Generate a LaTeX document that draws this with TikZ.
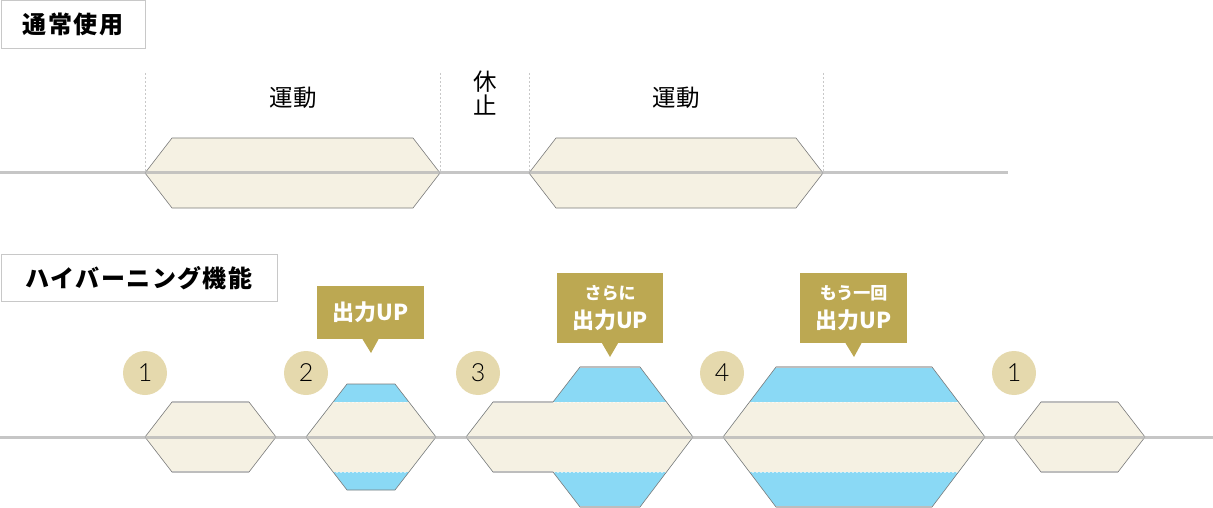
\documentclass[tikz,border=0pt]{standalone}
\usepackage{fontspec}
\setmainfont{Noto Sans CJK JP}
\newfontfamily\numfont{Lato Light}
\definecolor{cream}{HTML}{F5F1E3}
\definecolor{sky}{HTML}{8AD9F5}
\definecolor{gold}{HTML}{BCA852}
\definecolor{tanc}{HTML}{E5D9AD}
\definecolor{tline}{HTML}{B8B8B8}
\definecolor{edgec}{HTML}{7A7A7A}
\definecolor{hedge}{HTML}{BDBDBD}
\definecolor{boxc}{HTML}{C8C8C8}
\tikzset{
  shapefill/.style={fill=cream},
  outline/.style={draw=edgec, line width=0.6pt, line join=miter},
  hedgeline/.style={draw=hedge, line width=1.6pt},
  bandline/.style={draw=white, draw opacity=0.6, line width=0.6pt, dash pattern=on 2pt off 2pt},
  timeline/.style={draw=tline, line width=3pt, opacity=0.8},
  guide/.style={draw=boxc, line width=0.6pt, dash pattern=on 2pt off 2pt},
  numcirc/.style={circle, fill=tanc, minimum size=44pt, inner sep=0pt, font=\numfont\fontsize{25}{25}\selectfont},
  callout/.style={fill=gold, text=white, inner sep=0pt, align=center, font=\bfseries},
  titlebox/.style={draw=boxc, fill=white, line width=0.8pt, anchor=north west, inner sep=0pt, font=\bfseries\fontsize{24}{24}\selectfont\addfontfeature{LetterSpace=6}},
  phase/.style={font=\fontsize{23.5}{24}\selectfont, align=center, inner sep=0pt}
}
\begin{document}
\begin{tikzpicture}[x=1pt,y=-1pt]
\useasboundingbox (0,0) rectangle (1213,508);

% ---------- top section ----------
\node[titlebox, minimum width=144.5pt, minimum height=47.5pt] (t1) at (0.5,0.5) {通常使用};

\draw[guide] (145,73) -- (145,173);
\draw[guide] (440,73) -- (440,173);
\draw[guide] (529,73) -- (529,173);
\draw[guide] (823,73) -- (823,173);

\node[phase] (m1) at (293,98) {運動};
\node[phase] (r1) at (485,93) {休\\止};
\node[phase] (m2) at (676,98) {運動};

\path[shapefill, outline] (145,173) -- (172,138) -- (413,138) -- (440,173) -- (413,208) -- (172,208) -- cycle;
\path[shapefill, outline] (529,173) -- (556,138) -- (796,138) -- (823,173) -- (796,208) -- (556,208) -- cycle;
\draw[timeline] (0,173) -- (1008,173);

% ---------- bottom section ----------
\node[titlebox, minimum width=276.5pt, minimum height=47pt] (t2) at (0.5,254) {ハイバーニング機能};

% shape b1
\path[shapefill, outline] (145,437) -- (172,402) -- (249,402) -- (276,437) -- (249,472) -- (172,472) -- cycle;
\draw[hedgeline] (172,402) -- (249,402) (172,472) -- (249,472);

% shape b2
\path[fill=sky] (306,437) -- (347,384) -- (395,384) -- (436,437) -- (395,490) -- (347,490) -- cycle;
\begin{scope}
  \clip (306,437) -- (347,384) -- (395,384) -- (436,437) -- (395,490) -- (347,490) -- cycle;
  \fill[cream] (300,402) rectangle (440,472);
  \draw[bandline] (300,402) -- (440,402) (300,472) -- (440,472);
\end{scope}
\path[outline] (306,437) -- (347,384) -- (395,384) -- (436,437) -- (395,490) -- (347,490) -- cycle;

% shape b3
\path[fill=sky] (466,437) -- (493,402) -- (553,402) -- (580,367) -- (640,367) -- (693,437) -- (640,507) -- (580,507) -- (553,472) -- (493,472) -- cycle;
\begin{scope}
  \clip (466,437) -- (493,402) -- (553,402) -- (580,367) -- (640,367) -- (693,437) -- (640,507) -- (580,507) -- (553,472) -- (493,472) -- cycle;
  \fill[cream] (460,402) rectangle (700,472);
  \draw[bandline] (553,402) -- (700,402) (553,472) -- (700,472);
\end{scope}
\path[outline] (466,437) -- (493,402) -- (553,402) -- (580,367) -- (640,367) -- (693,437) -- (640,507) -- (580,507) -- (553,472) -- (493,472) -- cycle;
\draw[hedgeline] (493,402) -- (553,402) (580,367) -- (640,367) (493,472) -- (553,472) (580,507) -- (640,507);

% shape b4
\path[fill=sky] (723,437) -- (776,367) -- (932,367) -- (985,437) -- (932,507) -- (776,507) -- cycle;
\begin{scope}
  \clip (723,437) -- (776,367) -- (932,367) -- (985,437) -- (932,507) -- (776,507) -- cycle;
  \fill[cream] (720,402) rectangle (990,472);
  \draw[bandline] (720,402) -- (990,402) (720,472) -- (990,472);
\end{scope}
\path[outline] (723,437) -- (776,367) -- (932,367) -- (985,437) -- (932,507) -- (776,507) -- cycle;
\draw[hedgeline] (776,367) -- (932,367) (776,507) -- (932,507);

% shape b5
\path[shapefill, outline] (1014,437) -- (1041,402) -- (1118,402) -- (1145,437) -- (1118,472) -- (1041,472) -- cycle;
\draw[hedgeline] (1041,402) -- (1118,402) (1041,472) -- (1118,472);

\draw[timeline] (0,437) -- (1213,437);

% number circles
\node[numcirc] (n1) at (145,373) {1};
\node[numcirc] (n2) at (306,373) {2};
\node[numcirc] (n3) at (478,373) {3};
\node[numcirc] (n4) at (722,373) {4};
\node[numcirc] (n5) at (1014,373) {1};

% callouts
\node[callout, minimum width=107pt, minimum height=53pt, font=\bfseries\fontsize{22}{24}\selectfont] (c1) at (370.5,312.5) {出力UP};
\fill[gold] ([xshift=-8pt]c1.south) -- ([xshift=8pt]c1.south) -- (371,353) -- cycle;

\node[callout, minimum width=106pt, minimum height=70pt] (c2) at (610,308) {};
\node[text=white, font=\bfseries\fontsize{17}{17}\selectfont, inner sep=0pt] (c2a) at (610,293.5) {さらに};
\node[text=white, font=\bfseries\fontsize{22}{22}\selectfont, inner sep=0pt] (c2b) at (610,320.5) {出力UP};
\fill[gold] ([xshift=-8pt]c2.south) -- ([xshift=8pt]c2.south) -- (610,357) -- cycle;

\node[callout, minimum width=107pt, minimum height=70pt] (c3) at (853.5,308) {};
\node[text=white, font=\bfseries\fontsize{17}{17}\selectfont, inner sep=0pt] (c3a) at (853.5,293.5) {もう一回};
\node[text=white, font=\bfseries\fontsize{22}{22}\selectfont, inner sep=0pt] (c3b) at (853.5,320.5) {出力UP};
\fill[gold] ([xshift=-8pt]c3.south) -- ([xshift=8pt]c3.south) -- (854,357) -- cycle;

\end{tikzpicture}
\end{document}
